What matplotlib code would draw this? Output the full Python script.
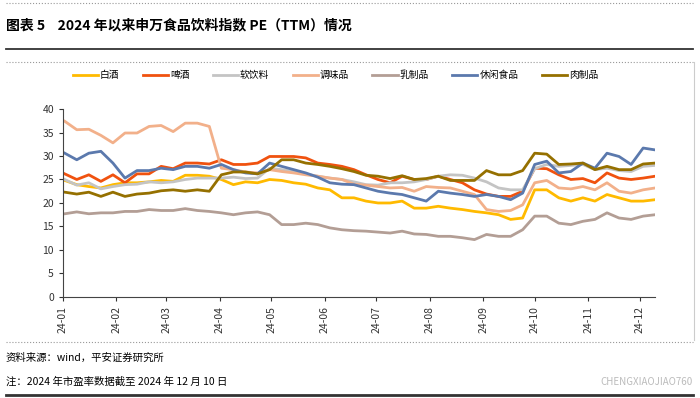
import matplotlib.pyplot as plt
import matplotlib.dates as mdates
from matplotlib.lines import Line2D
import pandas as pd

plt.rcParams['font.family'] = ['Noto Sans CJK SC', 'DejaVu Sans']

# weekly sample dates, 2024-01-02 .. 2024-12-10
dates = pd.date_range('2024-01-02', periods=50, freq='7D')

baijiu = [24.8, 23.9, 23.5, 23.2, 23.9, 24.3, 24.3, 24.5, 24.8, 24.6,
          25.9, 25.9, 25.7, 25.0, 23.9, 24.5, 24.3, 25.0, 24.8, 24.3,
          24.0, 23.2, 22.8, 21.1, 21.1, 20.4, 20.0, 20.0, 20.4, 18.9,
          18.9, 19.3, 18.9, 18.6, 18.2, 17.9, 17.5, 16.5, 16.8, 22.8,
          22.8, 21.1, 20.4, 21.1, 20.4, 21.8, 21.1, 20.4, 20.4, 20.7]
pijiu = [26.2, 25.0, 26.0, 24.6, 26.0, 24.3, 26.2, 26.2, 27.8, 27.3,
         28.5, 28.5, 28.3, 29.2, 28.2, 28.2, 28.5, 29.9, 29.9, 29.9,
         29.6, 28.5, 28.2, 27.8, 27.1, 26.0, 25.0, 24.3, 25.7, 25.0,
         25.0, 25.7, 25.0, 24.3, 22.8, 21.9, 21.4, 21.4, 22.5, 27.4,
         27.3, 26.0, 25.0, 25.2, 24.3, 26.4, 25.3, 25.0, 25.3, 25.7]
ruanyinliao = [25.0, 23.8, 24.3, 23.0, 23.5, 23.9, 24.0, 24.5, 24.3, 24.5,
               25.0, 25.3, 25.3, 25.3, 25.5, 25.2, 25.3, 27.4, 27.1, 26.7,
               26.2, 25.7, 25.3, 25.0, 24.5, 23.9, 23.8, 24.3, 24.3, 24.5,
               25.0, 25.7, 26.0, 25.9, 25.3, 24.5, 23.2, 22.8, 22.8, 27.3,
               28.2, 27.8, 28.0, 28.2, 27.1, 27.4, 26.9, 26.7, 27.8, 28.0]
tiaoweipin = [37.4, 35.6, 35.7, 34.4, 32.8, 34.9, 34.9, 36.3, 36.5, 35.2,
              37.0, 37.0, 36.3, 27.4, 27.1, 26.6, 26.4, 27.1, 26.7, 26.4,
              26.0, 25.7, 25.3, 25.0, 24.0, 23.8, 23.5, 23.2, 23.3, 22.5,
              23.5, 23.3, 23.2, 22.5, 21.8, 18.6, 18.2, 18.4, 19.6, 24.3,
              24.8, 23.2, 23.0, 23.5, 22.8, 24.3, 22.5, 22.1, 22.8, 23.2]
ruzhipin = [17.7, 18.1, 17.7, 17.9, 17.9, 18.2, 18.2, 18.6, 18.4, 18.4,
            18.8, 18.4, 18.2, 17.9, 17.5, 17.9, 18.1, 17.5, 15.4, 15.4,
            15.7, 15.4, 14.7, 14.3, 14.1, 14.0, 13.8, 13.6, 14.0, 13.4,
            13.3, 12.9, 12.9, 12.6, 12.2, 13.3, 12.9, 12.9, 14.3, 17.2,
            17.2, 15.7, 15.4, 16.1, 16.5, 17.9, 16.8, 16.5, 17.2, 17.5]
xiuxian = [30.6, 29.2, 30.6, 31.0, 28.5, 25.3, 26.9, 26.9, 27.4, 27.1,
           27.8, 27.8, 27.4, 28.2, 27.1, 26.4, 26.2, 28.5, 27.8, 27.1,
           26.4, 25.5, 24.3, 24.0, 23.9, 23.2, 22.5, 22.1, 21.8, 21.1,
           20.4, 22.5, 22.1, 21.8, 21.4, 21.8, 21.4, 20.7, 22.1, 28.2,
           28.9, 26.4, 26.7, 28.5, 27.4, 30.6, 29.9, 28.2, 31.7, 31.3]
rouzhipin = [22.3, 21.9, 22.3, 21.4, 22.3, 21.4, 21.9, 22.1, 22.6, 22.8,
             22.5, 22.8, 22.5, 26.0, 26.6, 26.6, 26.2, 27.1, 29.2, 29.2,
             28.5, 28.2, 27.8, 27.3, 26.7, 25.9, 25.7, 25.2, 25.8, 25.0,
             25.2, 25.7, 24.8, 24.8, 24.8, 26.9, 26.0, 26.0, 26.9, 30.6,
             30.4, 28.2, 28.3, 28.5, 27.1, 27.8, 27.1, 27.1, 28.3, 28.5]

labels = ['白酒', '啤酒', '软饮料', '调味品', '乳制品', '休闲食品', '肉制品']
series = [baijiu, pijiu, ruanyinliao, tiaoweipin, ruzhipin, xiuxian, rouzhipin]
colors = ['#FFBA00', '#F0520F', '#C4C4C4', '#F2B08A', '#B39E95', '#5B79AD', '#957000']

fig = plt.figure(figsize=(7, 3.98), dpi=100)
ax = fig.add_axes([0.09, 0.254, 0.846, 0.472])

for vals, lab, col in zip(series, labels, colors):
    ax.plot(dates, vals, color=col, lw=2.0, label=lab)

ax.set_ylim(0, 40)
ax.set_yticks(range(0, 41, 5))
ax.set_xlim(pd.Timestamp('2024-01-01'), pd.Timestamp('2024-12-10'))
ax.xaxis.set_major_locator(mdates.MonthLocator())
ax.xaxis.set_major_formatter(mdates.DateFormatter('%y-%m'))
plt.setp(ax.get_xticklabels(), rotation=90)
ax.tick_params(labelsize=7.5, colors='#333333', length=3)
for s in ['top', 'right']:
    ax.spines[s].set_visible(False)
for s in ['left', 'bottom']:
    ax.spines[s].set_color('#444444')

ax.legend(loc='center', bbox_to_anchor=(0.46, 1.18), ncol=7, frameon=False,
          fontsize=7, handlelength=2.6, columnspacing=2.4, handletextpad=0.2)

# title and frame lines
fig.text(0.008, 0.935, '图表 5    2024 年以来申万食品饮料指数 PE（TTM）情况',
         fontsize=10, fontweight='bold', va='center')

def hline(y, **kw):
    fig.add_artist(Line2D([0.008, 0.99], [y, y], transform=fig.transFigure, **kw))

hline(1 - 3 / 398, color='#999999', lw=0.8, ls=':')
hline(1 - 49 / 398, color='#333333', lw=1.3)
hline(1 - 62 / 398, color='#999999', lw=0.8, ls=':')
hline(1 - 342 / 398, color='#999999', lw=0.8, ls=':')
hline(1 - 395 / 398, color='#333333', lw=2.0)
fig.add_artist(Line2D([0.991, 0.991], [1 - 62 / 398, 1 - 340 / 398],
                      transform=fig.transFigure, color='#CCCCCC', lw=0.8))

fig.text(0.008, 1 - 358 / 398, '资料来源：wind，平安证券研究所', fontsize=7.5, va='center')
fig.text(0.008, 1 - 382 / 398, '注：2024 年市盈率数据截至 2024 年 12 月 10 日', fontsize=7.5, va='center')
fig.text(0.99, 1 - 382 / 398, 'CHENGXIAOJIAO760', fontsize=7, color='#BBBBBB',
         va='center', ha='right')

fig.savefig('out.png', dpi=100)
